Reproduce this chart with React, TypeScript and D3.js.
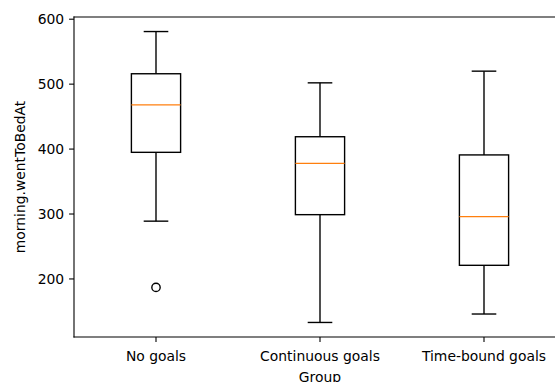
import React from "react";
import * as d3 from "d3";

const categories = ["No goals", "Continuous goals", "Time-bound goals"];
const whiskerHigh = [581, 502, 520];
const q3 = [516, 419, 391];
const medians = [468, 378, 296];
const q1 = [395, 299, 221];
const whiskerLow = [289, 133, 146];
const outliers = [[187], [], []];
const yTicks = [200, 300, 400, 500, 600];

const W = 555;
const H = 382;
const left = 74;
const right = 566;
const top = 17;
const bottom = 337;
const FONT = "'DejaVu Sans', sans-serif";
const FS = 13.9;

export default function App() {
  const allVals = [...whiskerHigh, ...whiskerLow, ...outliers.flat()];
  const mn = d3.min(allVals) as number;
  const mx = d3.max(allVals) as number;
  const pad = (mx - mn) * 0.05;
  const y = d3.scaleLinear().domain([mn - pad, mx + pad]).range([bottom, top]);
  const x = d3.scaleLinear().domain([0.5, categories.length + 0.5]).range([left, right]);
  const bw = 0.3;
  const cw = 0.15;
  const lw = 1.39;

  return (
    <svg width={W} height={H} style={{ position: "absolute", left: 0, top: 0, background: "#fff" }}>
      <rect x={0} y={0} width={W} height={H} fill="#fff" />
      {categories.map((c, i) => {
        const p = i + 1;
        const cx = x(p);
        return (
          <g key={c} stroke="#000" strokeWidth={lw} fill="none">
            <line x1={cx} x2={cx} y1={y(q3[i])} y2={y(whiskerHigh[i])} />
            <line x1={cx} x2={cx} y1={y(q1[i])} y2={y(whiskerLow[i])} />
            <line x1={x(p - cw / 2)} x2={x(p + cw / 2)} y1={y(whiskerHigh[i])} y2={y(whiskerHigh[i])} />
            <line x1={x(p - cw / 2)} x2={x(p + cw / 2)} y1={y(whiskerLow[i])} y2={y(whiskerLow[i])} />
            <rect x={x(p - bw / 2)} y={y(q3[i])} width={x(p + bw / 2) - x(p - bw / 2)} height={y(q1[i]) - y(q3[i])} />
            <line x1={x(p - bw / 2)} x2={x(p + bw / 2)} y1={y(medians[i])} y2={y(medians[i])} stroke="#ff7f0e" />
            {outliers[i].map((o, j) => (
              <circle key={j} cx={cx} cy={y(o)} r={4.17} />
            ))}
          </g>
        );
      })}
      {/* spines */}
      <g stroke="#000" strokeWidth={1.1} fill="none" strokeLinecap="square">
        <line x1={left} x2={left} y1={top} y2={bottom} />
        <line x1={right} x2={right} y1={top} y2={bottom} />
        <line x1={left} x2={right} y1={top} y2={top} />
        <line x1={left} x2={right} y1={bottom} y2={bottom} />
      </g>
      {/* y ticks */}
      {yTicks.map((t) => (
        <g key={t}>
          <line x1={left - 4.9} x2={left} y1={y(t)} y2={y(t)} stroke="#000" strokeWidth={1.1} />
          <text x={left - 4.9 - 4.9} y={y(t)} dy="0.36em" textAnchor="end" fontFamily={FONT} fontSize={FS} fill="#000">
            {t}
          </text>
        </g>
      ))}
      {/* x ticks */}
      {categories.map((c, i) => (
        <g key={c}>
          <line x1={x(i + 1)} x2={x(i + 1)} y1={bottom} y2={bottom + 4.9} stroke="#000" strokeWidth={1.1} />
          <text x={x(i + 1)} y={360.5} textAnchor="middle" fontFamily={FONT} fontSize={FS} fill="#000">
            {c}
          </text>
        </g>
      ))}
      <text x={x(2)} y={381.5} textAnchor="middle" fontFamily={FONT} fontSize={FS} fill="#000">
        Group
      </text>
      <text
        transform={`translate(25.2,${(top + bottom) / 2}) rotate(-90)`}
        textAnchor="middle"
        fontFamily={FONT}
        fontSize={FS}
        fill="#000"
      >
        morning.wentToBedAt
      </text>
    </svg>
  );
}
